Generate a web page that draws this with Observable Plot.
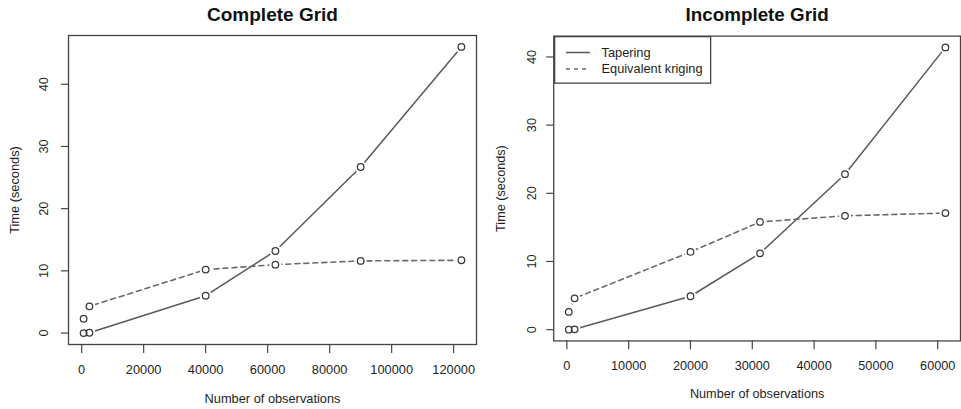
<!DOCTYPE html>
<html>
<head>
<meta charset="utf-8">
<script src="https://cdn.jsdelivr.net/npm/d3@7"></script>
<script src="https://cdn.jsdelivr.net/npm/@observablehq/plot@0.6"></script>
<style>
html, body { margin: 0; padding: 0; background: #fff; overflow: hidden; }
#wrap { position: relative; width: 961px; height: 409px; overflow: hidden; background: #fff;
  font-family: "Liberation Sans", Arial, Helvetica, sans-serif; }
#left { position: absolute; left: 0; top: 0; }
#right { position: absolute; left: 480px; top: 0; }
#legend { position: absolute; left: 554px; top: 36px; }
</style>
</head>
<body>
<div id="wrap">
  <div id="left"></div>
  <div id="right"></div>
  <div id="legend"></div>
</div>
<script>
// ---- Data ----
const completeN      = [625, 2500, 40000, 62500, 90000, 122500];
const completeTaper  = [0.0, 0.05, 6.0, 13.2, 26.7, 46.0];
const completeKrige  = [2.3, 4.3, 10.2, 11.0, 11.6, 11.7];

const incompleteN     = [312.5, 1250, 20000, 31250, 45000, 61250];
const incompleteTaper = [0.0, 0.05, 4.9, 11.2, 22.8, 41.4];
const incompleteKrige = [2.6, 4.6, 11.4, 15.8, 16.7, 17.1];

const completeXTicks   = [0, 20000, 40000, 60000, 80000, 100000, 120000];
const incompleteXTicks = [0, 10000, 20000, 30000, 40000, 50000, 60000];
const yTicks = [0, 10, 20, 30, 40];

const seriesNames = ["Tapering", "Equivalent kriging"];
const titles = ["Complete Grid", "Incomplete Grid"];
const xLabel = "Number of observations";
const yLabel = "Time (seconds)";

// ---- Styles ----
const FONT = "Liberation Sans, Arial, Helvetica, sans-serif";
const FS = 12.8;
const solidColor = "#595959";
const dashColor = "#6a6a6a";
const pointColor = "#383838";
const frameColor = "#444444";
const textColor = "#1e1e1e";
const DASH = "5,4";

// R-style 4% range extension
function rDomain(values) {
  const [lo, hi] = d3.extent(values);
  const r = hi - lo;
  return [lo - 0.04 * r, hi + 0.04 * r];
}

function panel({n, taper, krige, xTicks, title, width, marginLeft, marginRight, marginTop, yTickDx, yLabelDx}) {
  const tapering = n.map((x, i) => ({x, y: taper[i]}));
  const kriging = n.map((x, i) => ({x, y: krige[i]}));
  const all = tapering.concat(kriging);
  return Plot.plot({
    width, height: 409,
    marginLeft, marginRight, marginTop, marginBottom: 65,
    style: {fontFamily: FONT, fontSize: FS + "px", color: textColor, background: "transparent", overflow: "visible"},
    x: {domain: rDomain(n)},
    y: {domain: rDomain(taper.concat(krige))},
    marks: [
      Plot.frame({stroke: frameColor, strokeWidth: 1.3}),
      Plot.line(tapering, {x: "x", y: "y", stroke: solidColor, strokeWidth: 1.5}),
      Plot.line(kriging, {x: "x", y: "y", stroke: dashColor, strokeWidth: 1.6, strokeDasharray: DASH}),
      Plot.dot(all, {x: "x", y: "y", r: 6, fill: "white", stroke: "none"}),
      Plot.dot(all, {x: "x", y: "y", r: 3.3, fill: "none", stroke: pointColor, strokeWidth: 1.25}),
      Plot.axisX({ticks: xTicks, tickSize: 9, tickPadding: 11, tickFormat: d => String(d),
        label: null, stroke: frameColor, strokeWidth: 1.2, fill: textColor, fontSize: FS}),
      Plot.axisY({ticks: yTicks, tickSize: 7, tickFormat: () => "", label: null, stroke: frameColor, strokeWidth: 1.2}),
      Plot.text(yTicks, {y: d => d, text: d => String(d), frameAnchor: "left", dx: yTickDx,
        rotate: -90, textAnchor: "middle", lineAnchor: "middle", fill: textColor, fontSize: FS}),
      Plot.text([title], {frameAnchor: "top", dy: -21, lineAnchor: "middle", fontSize: 19,
        fontWeight: "bold", fill: "#111"}),
      Plot.text([xLabel], {frameAnchor: "bottom", dy: 54, lineAnchor: "middle", fill: textColor, fontSize: FS}),
      Plot.text([yLabel], {frameAnchor: "left", dx: yLabelDx, rotate: -90, textAnchor: "middle",
        lineAnchor: "middle", fill: textColor, fontSize: FS})
    ]
  });
}

document.getElementById("left").appendChild(panel({
  n: completeN, taper: completeTaper, krige: completeKrige, xTicks: completeXTicks,
  title: titles[0], width: 480, marginLeft: 68, marginRight: 4, marginTop: 35,
  yTickDx: -24.7, yLabelDx: -54
}));

document.getElementById("right").appendChild(panel({
  n: incompleteN, taper: incompleteTaper, krige: incompleteKrige, xTicks: incompleteXTicks,
  title: titles[1], width: 486, marginLeft: 74, marginRight: 1, marginTop: 36,
  yTickDx: -22.3, yLabelDx: -53.3
}));

// ---- Legend ----
const lg = d3.select("#legend").append("svg")
  .attr("width", 158).attr("height", 49)
  .style("font-family", FONT).style("font-size", FS + "px");
lg.append("rect").attr("x", 0.65).attr("y", 0.65).attr("width", 156).attr("height", 46.5)
  .attr("fill", "white").attr("stroke", frameColor).attr("stroke-width", 1.3);
seriesNames.forEach((name, i) => {
  const yy = 16.5 + i * 16.4;
  lg.append("line").attr("x1", 12).attr("x2", 36).attr("y1", yy).attr("y2", yy)
    .attr("stroke", i === 0 ? solidColor : dashColor).attr("stroke-width", 1.5)
    .attr("stroke-dasharray", i === 0 ? null : "4,4");
  lg.append("text").attr("x", 47.5).attr("y", yy).attr("dy", "0.35em")
    .attr("fill", textColor).text(name);
});
</script>
</body>
</html>
